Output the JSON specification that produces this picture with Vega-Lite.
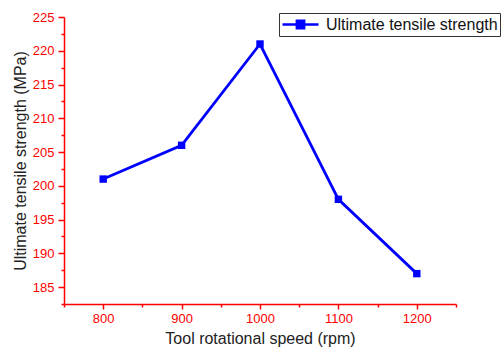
{
  "$schema": "https://vega.github.io/schema/vega-lite/v6.json",
  "width": 392,
  "height": 287,
  "autosize": {"type": "none"},
  "padding": {"left": 64, "top": 17, "right": 45, "bottom": 45},
  "background": "white",
  "config": {"view": {"stroke": null}, "font": "Liberation Sans"},
  "data": {"values": [
    {"speed": 800, "uts": 201},
    {"speed": 900, "uts": 206},
    {"speed": 1000, "uts": 221},
    {"speed": 1100, "uts": 198},
    {"speed": 1200, "uts": 187}
  ]},
  "layer": [
    {
      "mark": {"type": "line", "strokeWidth": 2.8, "point": {"shape": "square", "filled": true, "size": 55}},
      "encoding": {
        "x": {"field": "speed", "type": "quantitative",
          "scale": {"domain": [750, 1250], "nice": false, "zero": false},
          "axis": {"orient": "bottom", "values": [800, 900, 1000, 1100, 1200], "format": "d", "grid": false,
            "domainColor": "#ff0000", "domainWidth": 1.5, "tickColor": "#ff0000", "tickWidth": 1.5, "tickSize": 5,
            "labelColor": "#ff0000", "labelFontSize": 13, "labelPadding": 3, "labelFont": "Liberation Sans",
            "title": "Tool rotational speed (rpm)", "titleFontSize": 16, "titleFontWeight": "normal", "titleColor": "#222222", "titlePadding": 5, "titleFont": "Liberation Sans"}},
        "y": {"field": "uts", "type": "quantitative",
          "scale": {"domain": [182.5, 225], "nice": false, "zero": false},
          "axis": {"orient": "left", "values": [185, 190, 195, 200, 205, 210, 215, 220, 225], "format": "d", "grid": false,
            "domainColor": "#ff0000", "domainWidth": 1.5, "tickColor": "#ff0000", "tickWidth": 1.5, "tickSize": 6,
            "labelColor": "#ff0000", "labelFontSize": 13, "labelPadding": 4, "labelFont": "Liberation Sans",
            "title": "Ultimate tensile strength (MPa)", "titleFontSize": 16, "titleFontWeight": "normal", "titleColor": "#222222", "titlePadding": 4, "titleFont": "Liberation Sans"}},
        "color": {"datum": "Ultimate tensile strength", "type": "nominal",
          "scale": {"range": ["#0000ff"]},
          "legend": {"orient": "none", "legendX": 215, "legendY": -4, "title": null,
            "symbolType": "M-1,0H3.5M0.8,-0.45H1.7V0.45H0.8Z", "symbolSize": 256,
            "symbolStrokeWidth": 2.6, "symbolFillColor": "#0000ff", "symbolStrokeColor": "#0000ff",
            "labelFontSize": 16, "labelLimit": 400, "labelColor": "#111111", "labelFont": "Liberation Sans", "labelOffset": 26,
            "strokeColor": "#333333", "fillColor": "white", "padding": 2}}
      }
    },
    {
      "mark": {"type": "point", "opacity": 0},
      "encoding": {
        "x": {"field": "speed", "type": "quantitative",
          "axis": {"orient": "bottom", "values": [750, 850, 950, 1050, 1150, 1250], "grid": false, "labels": false, "domain": false, "title": null,
            "tickColor": "#ff0000", "tickWidth": 1.5, "tickSize": 3}},
        "y": {"field": "uts", "type": "quantitative",
          "axis": {"orient": "left", "values": [182.5, 187.5, 192.5, 197.5, 202.5, 207.5, 212.5, 217.5, 222.5], "grid": false, "labels": false, "domain": false, "title": null,
            "tickColor": "#ff0000", "tickWidth": 1.5, "tickSize": 3}}
      }
    }
  ],
  "resolve": {"axis": {"x": "independent", "y": "independent"}}
}
